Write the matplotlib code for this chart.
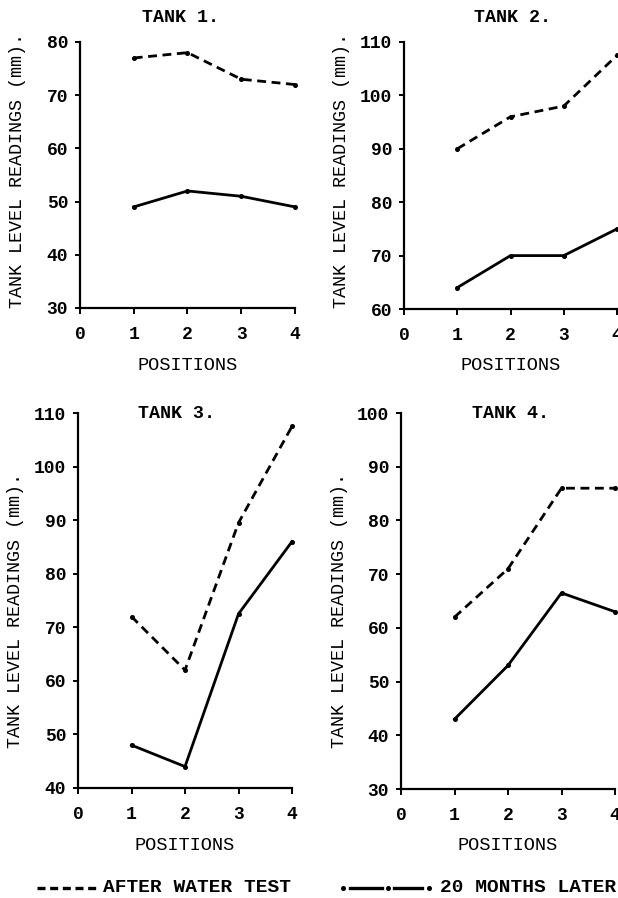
import matplotlib
matplotlib.use("Agg")
import matplotlib.pyplot as plt
from matplotlib.lines import Line2D

W, H = 618, 898

positions = [1, 2, 3, 4]
x_ticks = [0, 1, 2, 3, 4]

tank_titles = ["TANK 1.", "TANK 2.", "TANK 3.", "TANK 4."]
after_test = [
    [77, 78, 73, 72],
    [90, 96, 98, 107.5],
    [72, 62, 89.5, 107.5],
    [62, 71, 86, 86],
]
later_20m = [
    [49, 52, 51, 49],
    [64, 70, 70, 75],
    [48, 44, 72.5, 86],
    [43, 53, 66.5, 63],
]
y_ranges = [(30, 80), (60, 110), (40, 110), (30, 100)]

legend_after = "AFTER WATER TEST"
legend_later = "20 MONTHS LATER"
y_label = "TANK LEVEL READINGS (mm)."
x_label = "POSITIONS"

FONT = "Liberation Mono"
plt.rcParams["font.family"] = [FONT, "DejaVu Sans"]

# axes boxes in pixels: (x of 0, x of 4, top y, bottom y), measured from top-left
boxes = [
    (80, 295, 42, 308),
    (404, 617, 42, 309),
    (78, 292, 413, 788),
    (401, 615, 413, 789),
]
title_pos = [(180, 18), (513, 18), (176, 413), (510, 414)]
ylabel_y = [170, 170, 610, 610]


def px_rect(x0, x1, ytop, ybot):
    return [x0 / W, 1 - ybot / H, (x1 - x0) / W, (ybot - ytop) / H]


def fx(px):
    return px / W


def fy(py):
    return 1 - py / H


fig = plt.figure(figsize=(W / 100, H / 100), dpi=100)

for i in range(4):
    x0, x1, yt, yb = boxes[i]
    ax = fig.add_axes(px_rect(x0, x1, yt, yb))
    ax.set_facecolor("none")
    ax.plot(positions, after_test[i], color="black", lw=2.0,
            dashes=(3.2, 2.0), marker="o", ms=2.6, clip_on=False)
    ax.plot(positions, later_20m[i], color="black", lw=2.0,
            marker="o", ms=2.6, clip_on=False)
    lo, hi = y_ranges[i]
    ax.set_xlim(0, 4)
    ax.set_ylim(lo, hi)
    ax.set_xticks(x_ticks)
    ax.set_yticks(range(lo, hi + 1, 10))
    for s in ("top", "right"):
        ax.spines[s].set_visible(False)
    for s in ("left", "bottom"):
        ax.spines[s].set_linewidth(1.6)
    ax.tick_params(axis="x", length=4, width=1.4, pad=9, labelsize=13)
    ax.tick_params(axis="y", length=3.5, width=1.4, pad=5, labelsize=13)
    for lab in ax.get_xticklabels() + ax.get_yticklabels():
        lab.set_fontweight("bold")

    tx, ty = title_pos[i]
    fig.text(fx(tx), fy(ty), tank_titles[i], ha="center", va="center",
             fontsize=13.2, fontweight="bold")
    fig.text(fx(x0 - 62), fy(ylabel_y[i]), y_label,
             rotation=90, ha="center", va="center", fontsize=13.2)
    fig.text(fx((x0 + x1) / 2), fy(yb + 57), x_label,
             ha="center", va="center", fontsize=13.4)

# legend at the bottom
ly = fy(888)
fig.add_artist(Line2D([fx(37), fx(97)], [ly, ly], color="black", lw=2.4,
                      dashes=(2.4, 1.4)))
fig.text(fx(103), ly, legend_after, ha="left", va="center",
         fontsize=14, fontweight="bold")
for a, b in [(350, 382), (394, 422)]:
    fig.add_artist(Line2D([fx(a), fx(b)], [ly, ly], color="black", lw=2.4))
fig.add_artist(Line2D([fx(343), fx(388), fx(429)], [ly, ly, ly], lw=0,
                      color="black", marker="o", ms=2.6))
fig.text(fx(440), ly, legend_later, ha="left", va="center",
         fontsize=14, fontweight="bold")

fig.savefig("out.png", dpi=100, facecolor="white")
